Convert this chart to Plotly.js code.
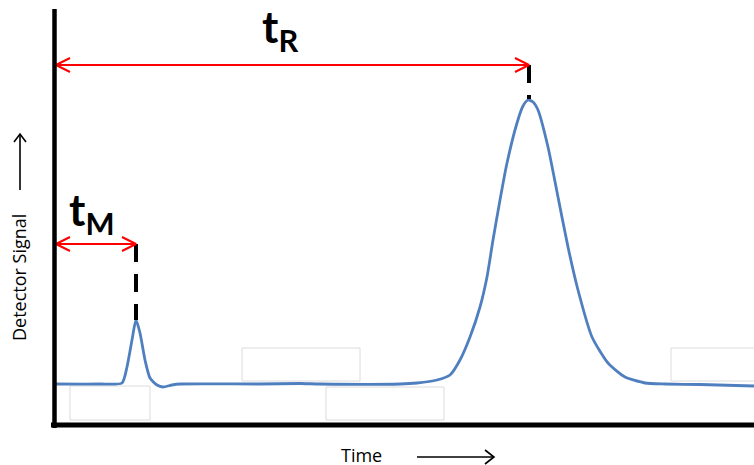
<!DOCTYPE html>
<html>
<head>
<meta charset="utf-8">
<script src="https://cdn.plot.ly/plotly-3.0.1.min.js"></script>
<style>html,body{margin:0;padding:0;background:#fff;}#chart{width:754px;height:465px;}</style>
</head>
<body>
<div id="chart"></div>
<script>
// Chromatogram trace (time units, detector signal units)
const time = [0, 46, 68, 73, 78, 82, 86, 91, 96, 103, 109, 118, 126, 206, 246, 266, 346, 363, 383, 396, 406, 416, 426, 433, 439, 446, 453, 463, 469, 474, 479, 484, 494, 504, 514, 524, 538, 554, 571, 591, 611, 646, 700];
const signal = [41, 41, 42, 58, 85, 105, 92, 65, 47, 40, 38, 40, 41, 41, 41.5, 41, 41, 42, 45, 50, 65, 88, 118, 148, 185, 225, 262, 302, 319, 325, 323, 315, 278, 228, 178, 135, 88, 62, 48, 42, 41, 40.5, 39];
// Retention markers
const markerNames = ["M", "R"];
const markerTime = [82, 475];       // peak times t_M and t_R
const markerPeak = [105, 326];      // top of each peak
const markerLevel = [181, 360];     // level of each double arrow
const arrowStart = 2;

const traces = [];
traces.push({x: time, y: signal, mode: 'lines', line: {color: '#4f7fbf', width: 2.8, shape: 'spline', smoothing: 0.6}, hoverinfo: 'skip'});

const shapes = [];
const boxes = [[16, 96, 5, 39], [188, 306, 44, 77], [272, 390, 5, 38], [617, 705, 44, 77]];
boxes.forEach(b => shapes.push({type: 'rect', xref: 'x', yref: 'y', x0: b[0], x1: b[1], y0: b[2], y1: b[3], line: {color: '#dcdcdc', width: 1}, fillcolor: 'rgba(255,255,255,1)', layer: 'below'}));

for (let i = 0; i < markerTime.length; i++) {
  const t = markerTime[i], lv = markerLevel[i];
  traces.push({x: [t, t], y: [lv, markerPeak[i]], mode: 'lines', line: {color: '#000', width: 4, dash: '18px,12px'}, hoverinfo: 'skip'});
  traces.push({x: [arrowStart, t], y: [lv, lv], mode: 'lines', line: {color: '#ff0000', width: 2}, hoverinfo: 'skip'});
  traces.push({x: [arrowStart + 14, arrowStart, arrowStart + 14], y: [lv + 7, lv, lv - 7], mode: 'lines', line: {color: '#ff0000', width: 2}, hoverinfo: 'skip'});
  traces.push({x: [t - 14, t, t - 14], y: [lv + 7, lv, lv - 7], mode: 'lines', line: {color: '#ff0000', width: 2}, hoverinfo: 'skip'});
}

const W = 700, H = 425;
function px(x) { return (x - 54) / W; }
function py(y) { return (425 - y) / H; }
shapes.push({type: 'line', xref: 'paper', yref: 'paper', x0: 0.5 / W, x1: 0.5 / W, y0: -3 / H, y1: 416 / H, line: {color: '#000', width: 4.5}, layer: 'above'});
shapes.push({type: 'line', xref: 'paper', yref: 'paper', x0: -3 / W, x1: 1, y0: 0, y1: 0, line: {color: '#000', width: 5}, layer: 'above'});
shapes.push({type: 'line', xref: 'paper', yref: 'paper', x0: px(20), x1: px(20), y0: py(190), y1: py(134), line: {color: '#000', width: 1.6}});
shapes.push({type: 'path', xref: 'paper', yref: 'paper', path: `M ${px(14)} ${py(142)} L ${px(20)} ${py(134)} L ${px(26)} ${py(142)}`, line: {color: '#000', width: 1.6}});
shapes.push({type: 'line', xref: 'paper', yref: 'paper', x0: px(417), x1: px(494), y0: py(457), y1: py(457), line: {color: '#000', width: 1.6}});
shapes.push({type: 'path', xref: 'paper', yref: 'paper', path: `M ${px(485)} ${py(450)} L ${px(494)} ${py(457)} L ${px(485)} ${py(464)}`, line: {color: '#000', width: 1.6}});

const bigFont = {family: 'Lato, "Open Sans", sans-serif', size: 44, color: '#000', weight: 'bold'};
const labFont = {family: '"Open Sans", Lato, sans-serif', size: 18, color: '#000'};
const annotations = [
  {xref: 'x', yref: 'y', x: 226, y: 396, text: 't<sub>' + markerNames[1] + '</sub>', showarrow: false, font: bigFont, xanchor: 'center', yanchor: 'middle'},
  {xref: 'x', yref: 'y', x: 37, y: 213, text: 't<sub>' + markerNames[0] + '</sub>', showarrow: false, font: bigFont, xanchor: 'center', yanchor: 'middle'},
  {xref: 'paper', yref: 'paper', x: px(19), y: py(278), text: 'Detector Signal', textangle: -90, showarrow: false, font: labFont, xanchor: 'center', yanchor: 'middle'},
  {xref: 'paper', yref: 'paper', x: px(361), y: py(455), text: 'Time', showarrow: false, font: labFont, xanchor: 'center', yanchor: 'middle'}
];

const layout = {
  width: 754, height: 465,
  margin: {l: 54, r: 0, t: 0, b: 40, pad: 0},
  paper_bgcolor: '#fff', plot_bgcolor: '#fff',
  showlegend: false,
  xaxis: {range: [0, 700], visible: false, fixedrange: true},
  yaxis: {range: [0, 425], visible: false, fixedrange: true},
  shapes: shapes,
  annotations: annotations
};
Plotly.newPlot('chart', traces, layout, {staticPlot: true, displayModeBar: false});
</script>
</body>
</html>
